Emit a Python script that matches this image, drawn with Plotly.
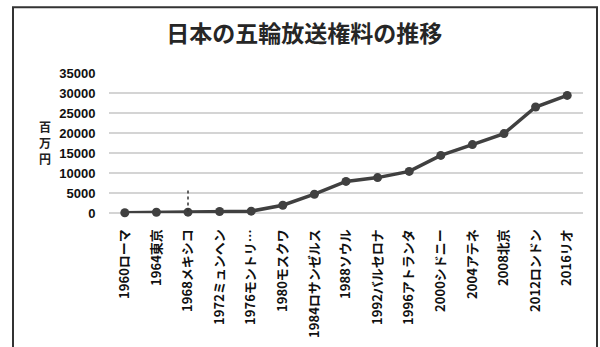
import plotly.graph_objects as go

categories = ["1960ローマ", "1964東京", "1968メキシコ", "1972ミュンヘン", "1976モントリ…",
              "1980モスクワ", "1984ロサンゼルス", "1988ソウル", "1992バルセロナ",
              "1996アトランタ", "2000シドニー", "2004アテネ", "2008北京",
              "2012ロンドン", "2016リオ"]
values = [50, 180, 216, 378, 468, 1950, 4700, 7900, 8850, 10400, 14400, 17100, 19850, 26500, 29400]
y_ticks = [0, 5000, 10000, 15000, 20000, 25000, 30000, 35000]
y_title_chars = ["百", "万", "円"]

# stray dotted mark visible in the source image
dot1_x = ["1968メキシコ", "1968メキシコ"]
dot1_y = [5600, 300]

FONT = "Noto Sans CJK JP"
DARK = "#404040"

fig = go.Figure()
fig.add_trace(go.Scatter(
    x=categories, y=values, mode="lines+markers",
    line=dict(color=DARK, width=3.5),
    marker=dict(color=DARK, size=9),
    cliponaxis=False, showlegend=False))
fig.add_trace(go.Scatter(x=dot1_x, y=dot1_y, mode="lines",
                         line=dict(color="#333333", width=1.5, dash="dot"),
                         cliponaxis=False, hoverinfo="skip", showlegend=False))

annotations = []
for i, ch in enumerate(y_title_chars):
    annotations.append(dict(text="<b>" + ch + "</b>", xref="paper", yref="paper",
                            x=(45 - 109) / 474, y=(212.7 - (126 + 16 * i)) / 140,
                            xanchor="center", yanchor="middle", showarrow=False,
                            font=dict(family=FONT, size=12, color="#222222")))

fig.update_layout(
    width=600, height=347,
    margin=dict(l=109, r=17, t=73, b=134, autoexpand=False),
    paper_bgcolor="white", plot_bgcolor="white",
    font=dict(family=FONT, color="#222222"),
    title=dict(text="<b>日本の五輪放送権料の推移</b>", x=0.507, xanchor="center",
               y=1 - 34 / 347, yanchor="middle",
               font=dict(family=FONT, size=23, color="#262626")),
    xaxis=dict(type="category", categoryorder="array", categoryarray=categories,
               range=[-0.5, 14.5], showgrid=False, showline=False,
               zeroline=False, tickangle=-90, ticks="outside", ticklen=10,
               tickcolor="rgba(0,0,0,0)",
               tickfont=dict(family=FONT, size=13, color="#111111"),
               tickmode="array", tickvals=categories,
               ticktext=["<b>" + c + "</b>" for c in categories]),
    yaxis=dict(range=[0, 35000], tickmode="array", tickvals=y_ticks,
               ticktext=["<b>" + str(t) + "</b>" for t in y_ticks],
               showgrid=True, gridcolor="#d4d4d4", gridwidth=1.5,
               zeroline=True, zerolinecolor="#d4d4d4", zerolinewidth=1.5,
               showline=False, ticks="outside", ticklen=10, tickcolor="rgba(0,0,0,0)",
               tickfont=dict(family="Liberation Sans", size=13, color="#111111")),
    shapes=[dict(type="rect", xref="paper", yref="paper",
                 x0=(13 - 109) / 474, x1=(597 - 109) / 474,
                 y0=(212.7 - 352) / 140, y1=(212.7 - 7) / 140,
                 line=dict(color="#333333", width=2), fillcolor="rgba(0,0,0,0)",
                 layer="below")],
    annotations=annotations,
)

fig.write_html("out.html")
